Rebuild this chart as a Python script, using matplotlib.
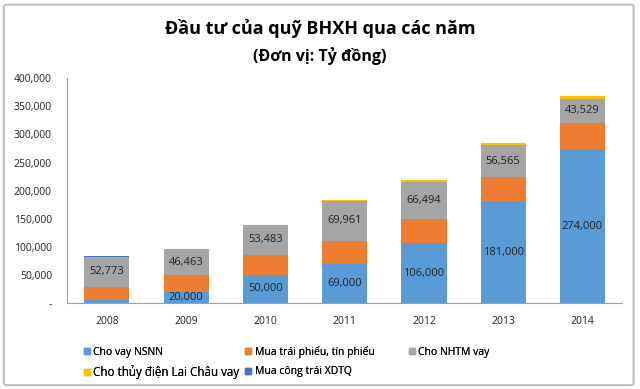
import numpy as np
import matplotlib.pyplot as plt
from matplotlib.patches import FancyBboxPatch
from matplotlib.lines import Line2D
from matplotlib.ticker import FuncFormatter

years = ["2008", "2009", "2010", "2011", "2012", "2013", "2014"]
cho_vay_nsnn = [5000, 20000, 50000, 69000, 106000, 181000, 274000]
mua_trai_phieu = [24000, 29000, 35500, 42000, 43500, 43000, 46000]
cho_nhtm_vay = [52773, 46463, 53483, 69961, 66494, 56565, 43529]
lai_chau = [0, 0, 0, 1500, 3500, 5000, 5500]
cong_trai_xdtq = [2000, 1500, 0, 0, 0, 0, 0]

nsnn_labels = [None, 20000, 50000, 69000, 106000, 181000, 274000]

series_names = ["Cho vay NSNN", "Mua trái phiếu, tín phiếu", "Cho NHTM vay",
                "Cho thủy điện Lai Châu vay", "Mua công trái XDTQ"]
colors = ["#5B9BD5", "#ED7D31", "#A5A5A5", "#FFC000", "#4472C4"]

plt.rcParams["font.family"] = ["Open Sans", "DejaVu Sans"]

fig = plt.figure(figsize=(6.4, 3.89), dpi=100)
ax = fig.add_axes([0.105, 0.221, 0.867, 0.578])

x = np.arange(len(years))
width = 0.57
bottom = np.zeros(len(years))
series = [cho_vay_nsnn, mua_trai_phieu, cho_nhtm_vay, lai_chau, cong_trai_xdtq]
for vals, c in zip(series, colors):
    ax.bar(x, vals, width, bottom=bottom, color=c, linewidth=0)
    bottom += np.array(vals)

# data labels
for i in range(len(years)):
    if nsnn_labels[i] is not None:
        ax.text(x[i], cho_vay_nsnn[i] / 2, f"{nsnn_labels[i]:,}",
                ha="center", va="center", fontsize=8, color="#222222")
    base = cho_vay_nsnn[i] + mua_trai_phieu[i]
    ax.text(x[i], base + cho_nhtm_vay[i] / 2, f"{cho_nhtm_vay[i]:,}",
            ha="center", va="center", fontsize=8, color="#222222")

ax.set_xlim(-0.5, 6.5)
ax.set_ylim(0, 400000)
ax.set_yticks(np.arange(0, 400001, 50000))
ax.yaxis.set_major_formatter(FuncFormatter(lambda v, p: "-" if v == 0 else f"{int(v):,}"))
ax.set_xticks(x)
ax.set_xticklabels(years)
ax.tick_params(axis="both", length=0, labelsize=7.5, colors="#222222")
ax.tick_params(axis="y", pad=11)
ax.tick_params(axis="x", pad=9)
for s in ["top", "right"]:
    ax.spines[s].set_visible(False)
ax.spines["left"].set_color("#7FA6CC")
ax.spines["bottom"].set_color("#A0A0A0")

fig.text(0.5, 0.928, "Đầu tư của quỹ BHXH qua các năm", ha="center", va="center",
         fontsize=13, fontweight="bold")
fig.text(0.5, 0.857, "(Đơn vị: Tỷ đồng)", ha="center", va="center",
         fontsize=11.5, fontweight="bold")

# legend entries placed like the reference (fixed column slots)
legend_pos = [(0.128, 0.095), (0.380, 0.095), (0.636, 0.095),
              (0.128, 0.044), (0.380, 0.044)]
legend_size = [7.5, 7.5, 7.5, 8.4, 7.5]
for name, c, (lx, ly), fs in zip(series_names, colors, legend_pos, legend_size):
    h = Line2D([], [], marker="s", linestyle="none", markersize=5,
               markerfacecolor=c, markeredgecolor=c)
    leg = fig.legend([h], [name], loc="center left", bbox_to_anchor=(lx, ly),
                     frameon=False, fontsize=fs, handletextpad=0.1 * 7.5 / fs,
                     handlelength=1.0 * 7.5 / fs, borderaxespad=0, borderpad=0)
    fig.add_artist(leg)

border = FancyBboxPatch((0.006, 0.01), 0.984, 0.978, boxstyle="round,pad=0,rounding_size=0.005",
                        transform=fig.transFigure, fill=False, edgecolor="#BFBFBF",
                        linewidth=1.5)
fig.patches.append(border)

fig.savefig("out.png", dpi=100)
